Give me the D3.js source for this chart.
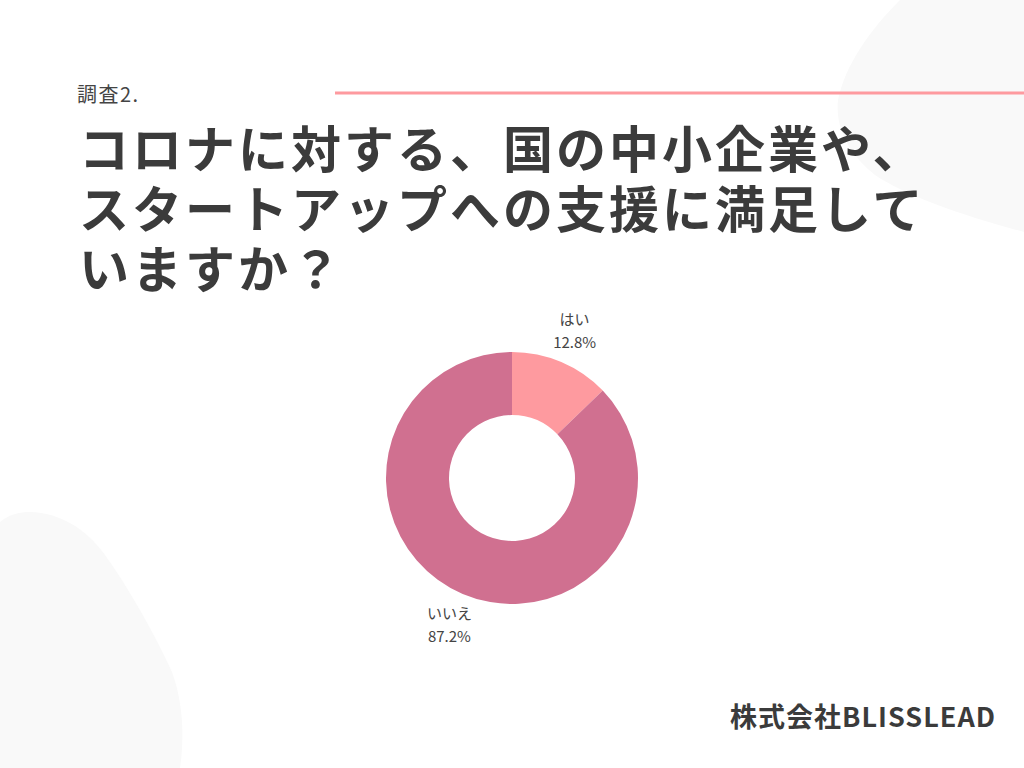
<!DOCTYPE html>
<html><head><meta charset="utf-8">
<script src="https://cdn.jsdelivr.net/npm/d3@7"></script>
<style>
html,body{margin:0;padding:0;background:#fff;}
svg{display:block;}
</style></head>
<body>
<svg id="c" width="1024" height="768"></svg>
<script>
const categories = ["はい", "いいえ"];
const values = [12.8, 87.2];
const valueLabels = ["12.8%", "87.2%"];
const colors = ["#fe9a9f", "#d07090"];
const surveyLabel = "調査2.";
const titleLines = ["コロナに対する、国の中小企業や、", "スタートアップへの支援に満足して", "いますか？"];
const footer = "株式会社BLISSLEAD";

const svg = d3.select("#c");
const font = "'Noto Sans CJK JP','Noto Sans',sans-serif";

// background blobs
svg.append("path")
  .attr("d", "M900,0 C870,30 845,65 838,100 C835,130 850,155 875,175 C905,195 960,215 1024,232 L1024,0 Z")
  .attr("fill", "#f9f9f9");
svg.append("path")
  .attr("d", "M0,522 C10,514 20,512 30,512 C60,513 85,528 105,555 C130,590 155,635 172,672 C184,705 184,740 180,768 L0,768 Z")
  .attr("fill", "#f9f9f9");

// header
svg.append("text").attr("x", 77).attr("y", 102)
  .attr("font-family", font).attr("font-weight", 400).attr("font-size", 20)
  .attr("letter-spacing", 1.5).attr("fill", "#444")
  .text(surveyLabel);
svg.append("line").attr("x1", 335).attr("x2", 1024).attr("y1", 93).attr("y2", 93)
  .attr("stroke", "#fe9a9f").attr("stroke-width", 3);

svg.append("g").selectAll("text").data(titleLines).join("text")
  .attr("x", 79).attr("y", (d, i) => 168 + i * 60)
  .attr("font-family", font).attr("font-weight", 700).attr("font-size", 50)
  .attr("letter-spacing", 3).attr("fill", "#3b3b3b")
  .text(d => d);

// donut
const cx = 512, cy = 478, rOuter = 126, rInner = 63, rLabel = 160;
const data = categories.map((c, i) => ({ cat: c, value: values[i], label: valueLabels[i], color: colors[i] }));
const pie = d3.pie().value(d => d.value).sort(null);
const arc = d3.arc().innerRadius(rInner).outerRadius(rOuter);
const labelArc = d3.arc().innerRadius(rLabel).outerRadius(rLabel);
const g = svg.append("g").attr("transform", `translate(${cx},${cy})`);
const arcs = pie(data);
g.selectAll("path").data(arcs).join("path")
  .attr("d", arc).attr("fill", d => d.data.color);
const lbl = g.selectAll("text.lbl").data(arcs).join("text").attr("class", "lbl")
  .attr("transform", d => `translate(${labelArc.centroid(d)})`)
  .attr("text-anchor", "middle").attr("font-family", font).attr("font-size", 15)
  .attr("font-weight", 400).attr("fill", "#444");
lbl.append("tspan").attr("x", 0).attr("y", -6).text(d => d.data.cat);
lbl.append("tspan").attr("x", 0).attr("y", 17).text(d => d.data.label);

// footer
svg.append("text").attr("x", 996).attr("y", 727).attr("text-anchor", "end")
  .attr("font-family", font).attr("font-weight", 700).attr("font-size", 27).attr("fill", "#3b3b3b")
  .attr("letter-spacing", 1)
  .text(footer);
</script>
</body></html>
